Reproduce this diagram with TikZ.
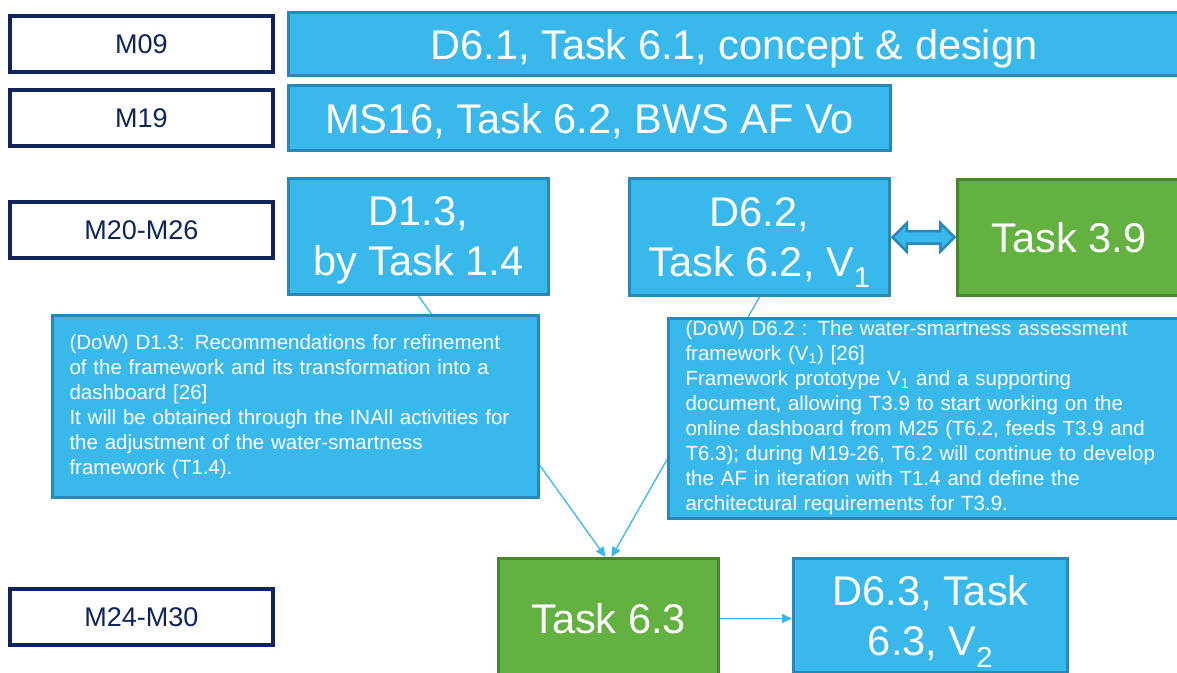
\documentclass[tikz,border=0pt]{standalone}
\usepackage{fontspec}
\setmainfont{Liberation Sans}
\usetikzlibrary{positioning,calc,shapes.arrows,arrows.meta}

\definecolor{skyfill}{RGB}{56,184,235}
\definecolor{skyline}{RGB}{40,136,184}
\definecolor{leaffill}{RGB}{99,177,64}
\definecolor{leafline}{RGB}{72,134,44}
\definecolor{navy}{RGB}{14,36,90}

\tikzset{
  month/.style={draw=navy, line width=3.5pt, fill=white, text=navy, minimum width=263, minimum height=56, inner sep=0, font=\fontsize{27}{32}\selectfont},
  sky/.style={draw=skyline, line width=3pt, fill=skyfill, text=white, inner sep=0},
  deliv/.style={sky, text depth=0pt, align=center, font=\fontsize{41.5}{50}\selectfont},
  task/.style={deliv, draw=leafline, fill=leaffill},
  dow/.style={sky, align=left, inner xsep=17, font=\fontsize{20.5}{25}\selectfont},
  feed/.style={draw=skyfill, line width=1.3pt, -{Triangle[length=10pt,width=9pt]}},
}

\begin{document}
\begin{tikzpicture}[x=1pt,y=-1pt]
  \useasboundingbox (0,0) rectangle (1177,672);
  \clip (0,0) rectangle (1177,672);
  % month labels on the left
  \node[month] (m09) at (141.5,44) {M09};
  \node[month] (m19) at (141.5,118) {M19};
  \node[month] (m20) at (141.5,230) {M20-M26};
  \node[month] (m24) at (141.5,617) {M24-M30};
  % deliverables and tasks
  \node[deliv, minimum width=891, minimum height=63] (d61) at (734,44) {D6.1, Task 6.1, concept \& design};
  \node[deliv, minimum width=602, minimum height=65] (ms16) at (589.5,118) {MS16, Task 6.2, BWS AF Vo};
  \node[deliv, minimum width=260, minimum height=116] (d13) at (418.5,236.5) {D1.3,\\by Task 1.4};
  \node[deliv, minimum width=260, minimum height=117] (d62) at (759.5,237) {D6.2,\\Task 6.2, V\textsubscript{1}};
  \node[task, minimum width=223, minimum height=116] (t39) at (1069,237.5) {Task 3.9};
  \node[task, minimum width=220, minimum height=120] (t63) at (608.5,618.5) {Task 6.3};
  \node[deliv, minimum width=274, minimum height=114] (d63) at (930.5,615.5) {D6.3, Task\\6.3, V\textsubscript{2}};
  % two-way link between D6.2 and Task 3.9
  \node[double arrow, draw=skyline, fill=skyfill, line width=2.5pt, inner sep=5, minimum height=62, minimum width=26, double arrow head extend=8] (link) at ($(d62.east)!0.5!(t39.west)$) {};
  % feeds into Task 6.3 (behind the text boxes)
  \draw[feed] (d13.south) -- ([xshift=-3pt]t63.north);
  \draw[feed] (d62.south) -- ([xshift=3pt]t63.north);
  \draw[feed] (t63.east) -- (d63.west |- t63.east);
  % DoW descriptions
  \node[dow, minimum width=486, text width=452, minimum height=182] (dow13) at (295.5,406.5) {(DoW) D1.3: Recommendations for refinement\\of the framework and its transformation into a\\dashboard [26]\\It will be obtained through the INAll activities for\\the adjustment of the water-smartness\\framework (T1.4).};
  \node[dow, minimum width=520, text width=486, minimum height=200] (dow62) at (928.5,418) {(DoW) D6.2 : The water-smartness assessment\\framework (V\textsubscript{1}) [26]\\Framework prototype V\textsubscript{1} and a supporting\\document, allowing T3.9 to start working on the\\online dashboard from M25 (T6.2, feeds T3.9 and\\T6.3); during M19-26, T6.2 will continue to develop\\the AF in iteration with T1.4 and define the\\architectural requirements for T3.9.};
\end{tikzpicture}
\end{document}
